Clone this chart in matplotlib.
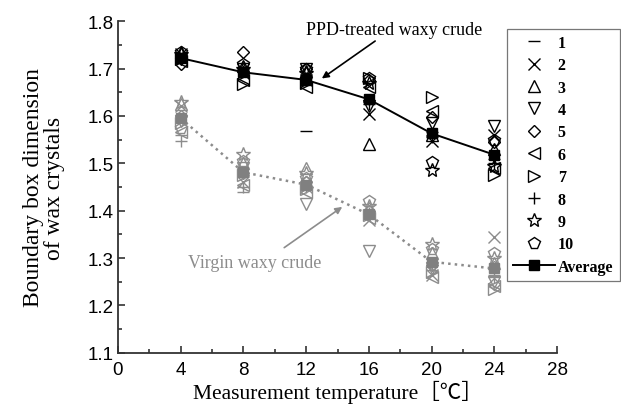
import numpy as np
import matplotlib
matplotlib.use('Agg')
import matplotlib.pyplot as plt
from matplotlib.lines import Line2D
from matplotlib.ticker import MultipleLocator

# measurement temperatures
temps = [4, 8, 12, 16, 20, 24]
sample_labels = ['1', '2', '3', '4', '5', '6', '7', '8', '9', '10']
sample_markers = ['_', 'x', '^', 'v', 'D', '<', '>', '+', '*', 'p']

# PPD-treated waxy crude, one row per sample (T = 4..24)
ppd_samples = [
    [1.725, 1.700, 1.568, 1.630, 1.565, 1.510],
    [1.730, 1.690, 1.675, 1.605, 1.548, 1.560],
    [1.735, 1.705, 1.695, 1.540, 1.560, 1.530],
    [1.720, 1.700, 1.700, 1.620, 1.585, 1.578],
    [1.710, 1.735, 1.700, 1.675, 1.598, 1.545],
    [1.715, 1.675, 1.662, 1.660, 1.610, 1.490],
    [1.720, 1.667, 1.670, 1.680, 1.640, 1.475],
    [1.720, 1.695, 1.680, 1.625, 1.555, 1.500],
    [1.730, 1.700, 1.690, 1.670, 1.485, 1.495],
    [1.735, 1.710, 1.700, 1.680, 1.503, 1.550],
]
ppd_avg = [1.722, 1.692, 1.676, 1.635, 1.563, 1.518]

# virgin waxy crude
virgin_samples = [
    [1.560, 1.440, 1.455, 1.390, 1.275, 1.265],
    [1.620, 1.460, 1.450, 1.380, 1.265, 1.345],
    [1.625, 1.500, 1.490, 1.405, 1.310, 1.290],
    [1.590, 1.490, 1.415, 1.315, 1.280, 1.250],
    [1.600, 1.480, 1.460, 1.400, 1.285, 1.245],
    [1.565, 1.455, 1.440, 1.385, 1.260, 1.240],
    [1.585, 1.475, 1.445, 1.390, 1.270, 1.235],
    [1.548, 1.450, 1.450, 1.395, 1.290, 1.260],
    [1.630, 1.520, 1.480, 1.410, 1.330, 1.300],
    [1.575, 1.505, 1.470, 1.420, 1.320, 1.310],
]
virgin_avg = [1.595, 1.481, 1.455, 1.392, 1.292, 1.278]

serif = ['Liberation Serif', 'Noto Sans CJK SC', 'DejaVu Sans']
gray = '#8c8c8c'

fig = plt.figure(figsize=(6.21, 4.10), dpi=100)
ax = fig.add_axes([0.19, 0.137, 0.707, 0.809])

def msize(m):
    if m == 'D':
        return 6.5
    if m == '*':
        return 10
    return 8.5

for vals, m in zip(virgin_samples, sample_markers):
    ax.plot(temps, vals, linestyle='none', marker=m, ms=msize(m), mfc='none',
            mec=gray, mew=1.0, zorder=2)
for vals, m in zip(ppd_samples, sample_markers):
    ax.plot(temps, vals, linestyle='none', marker=m, ms=msize(m), mfc='none',
            mec='black', mew=1.0, zorder=2)

ax.plot(temps, virgin_avg, linestyle=':', color=gray, lw=1.8, marker='s',
        ms=7, mfc='#808080', mec='#808080', zorder=3)
ax.plot(temps, ppd_avg, linestyle='-', color='black', lw=1.4, marker='s',
        ms=7, mfc='black', mec='black', zorder=3)

ax.set_xlim(0, 28)
ax.set_ylim(1.1, 1.8)
ax.xaxis.set_major_locator(MultipleLocator(4))
ax.xaxis.set_minor_locator(MultipleLocator(2))
ax.yaxis.set_minor_locator(MultipleLocator(0.05))
ax.set_yticks(np.arange(1.1, 1.81, 0.1))
ax.set_yticklabels(['%.1f' % v for v in np.arange(1.1, 1.81, 0.1)])

for s in ['top', 'right']:
    ax.spines[s].set_visible(False)
for s in ['left', 'bottom']:
    ax.spines[s].set_linewidth(1.3)
    ax.spines[s].set_color('#333333')
ax.tick_params(which='both', direction='in', color='#333333', width=1.2)
ax.tick_params(which='major', length=5, labelsize=13.5, pad=3)
ax.tick_params(axis='x', which='major', pad=6)
ax.tick_params(which='minor', length=3)
for lab in ax.get_xticklabels() + ax.get_yticklabels():
    lab.set_family(['Liberation Sans', 'DejaVu Sans'])

ax.set_xlabel('Measurement temperature［℃］', family=serif, fontsize=15.5, labelpad=1)
ax.set_ylabel('Boundary box dimension\nof wax crystals', family=serif,
              fontsize=17, linespacing=1.05, labelpad=16)

# PPD-treated label and arrow
ax.text(17.6, 1.782, 'PPD-treated waxy crude', ha='center', va='center',
        family=serif, fontsize=13, color='black')
ax.annotate('', xy=(13.0, 1.679), xytext=(16.4, 1.758),
            arrowprops=dict(arrowstyle='-|>', color='black', lw=1.2,
                            shrinkA=0, shrinkB=0, mutation_scale=10))

# virgin label and arrow
ax.text(8.7, 1.29, 'Virgin waxy crude', ha='center', va='center',
        family=serif, fontsize=13, color=gray)
ax.annotate('', xy=(14.3, 1.408), xytext=(10.6, 1.322),
            arrowprops=dict(arrowstyle='-|>', color=gray, lw=1.2,
                            shrinkA=0, shrinkB=0, mutation_scale=10))

handles = [Line2D([], [], linestyle='none', marker=m, ms=msize(m), mfc='none',
                  mec='black', mew=1.0) for m in sample_markers]
handles.append(Line2D([], [], color='black', lw=1.4, marker='s', ms=7,
                      mfc='black', mec='black'))
leg = fig.legend(handles, sample_labels + ['Average'], loc='upper left',
                 bbox_to_anchor=(0.816, 0.928), frameon=True, fancybox=False,
                 prop=dict(family='Liberation Serif', weight='bold', size=11.5),
                 handlelength=2.6, handletextpad=0.2, labelspacing=0.40,
                 borderpad=0.4, borderaxespad=0)
leg.get_frame().set_edgecolor('#555555')
leg.get_frame().set_linewidth(0.9)
leg.set_zorder(5)

fig.savefig('out.png', dpi=100)
